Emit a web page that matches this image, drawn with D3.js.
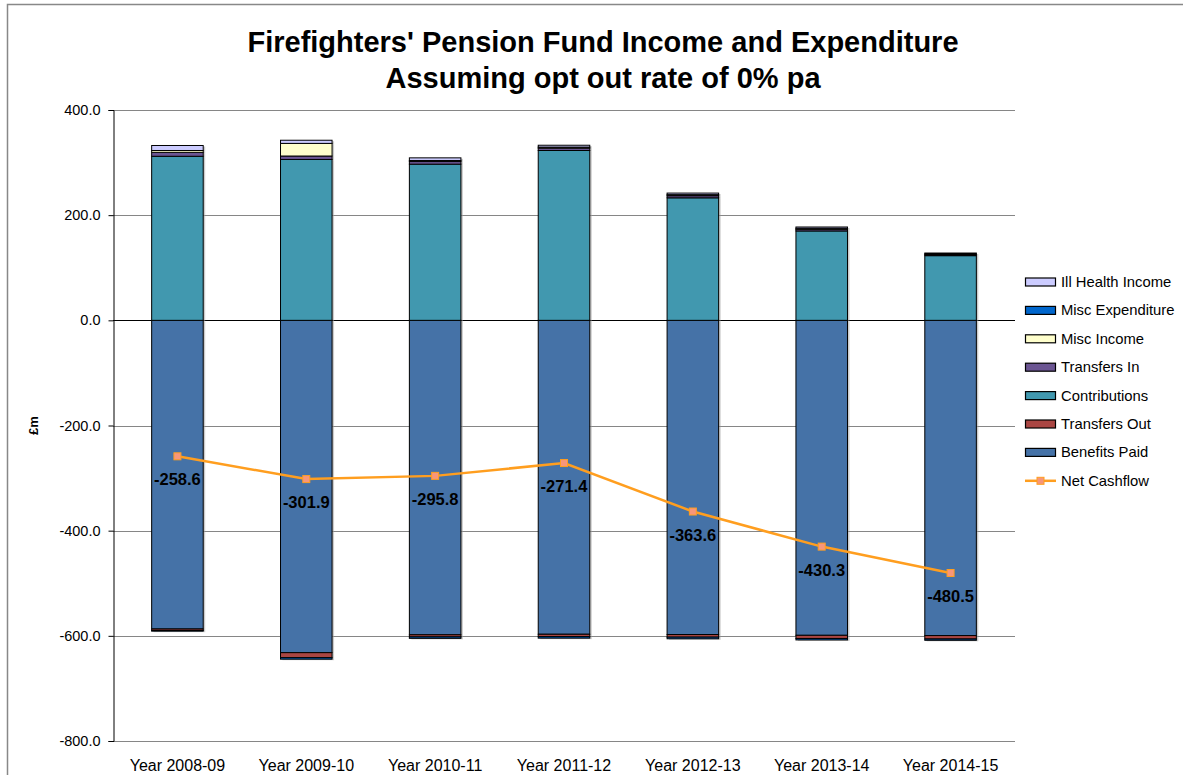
<!DOCTYPE html>
<html>
<head>
<meta charset="utf-8">
<script src="https://cdn.jsdelivr.net/npm/d3@7"></script>
<style>
  body { margin: 0; background: #fff; font-family: "Liberation Sans", Arial, sans-serif; }
  svg { display: block; }
</style>
</head>
<body>
<svg id="chart" width="1183" height="775"></svg>
<script>
// data (in £m)
const years = ["Year 2008-09", "Year 2009-10", "Year 2010-11", "Year 2011-12", "Year 2012-13", "Year 2013-14", "Year 2014-15"]
const benefitsPaid = [-587, -632, -598, -597, -597.5, -599, -599.5]
const transfersOut = [-2.8, -9.5, -4, -4.5, -5, -6, -6.5]
const contributions = [312, 306, 297, 323, 233, 170, 123]
const transfersIn = [7.5, 6.5, 5, 4.5, 4, 3, 2]
const miscIncome = [3.5, 24, 2, 2, 2, 2, 1.5]
const miscExpenditure = [-1.3, -2.9, -2.8, -2.9, -3.1, -2.8, -2.5]
const illHealthIncome = [9.5, 6, 5, 3.5, 3, 2.5, 1.5]
const netCashflow = [-258.6, -301.9, -295.8, -271.4, -363.6, -430.3, -480.5]
const yTicks = [400, 200, 0, -200, -400, -600, -800]

const series = [
  { key: "Benefits Paid", values: benefitsPaid, color: "#4572A7" },
  { key: "Transfers Out", values: transfersOut, color: "#AA4643" },
  { key: "Contributions", values: contributions, color: "#4198AF" },
  { key: "Transfers In", values: transfersIn, color: "#6B5592" },
  { key: "Misc Income", values: miscIncome, color: "#FFFFCC" },
  { key: "Misc Expenditure", values: miscExpenditure, color: "#0066CC" },
  { key: "Ill Health Income", values: illHealthIncome, color: "#CCCCFF" }
]

const table = years.map((y, i) => {
  const row = { year: y }
  series.forEach(s => { row[s.key] = s.values[i] })
  return row
})

const fmt = d => d.toFixed(1)   // plain hyphen minus, like the original

const svg = d3.select("#chart")
const plot = { left: 113, right: 1015, top: 110, bottom: 741 }

// chart frame
svg.append("rect")
  .attr("x", 7.5).attr("y", 4.5)
  .attr("width", 1200).attr("height", 800)
  .attr("fill", "#fff").attr("stroke", "#888").attr("stroke-width", 1.5)

const x = d3.scaleBand()
  .domain(years)
  .range([plot.left, plot.right])
  .paddingInner(0.6)
  .paddingOuter(0.3)

const y = d3.scaleLinear()
  .domain([-800, 400])
  .range([plot.bottom, plot.top])

// gridlines
svg.append("g")
  .selectAll("line")
  .data(yTicks)
  .enter()
  .append("line")
    .attr("x1", plot.left).attr("x2", plot.right)
    .attr("y1", d => Math.round(y(d)) + 0.5).attr("y2", d => Math.round(y(d)) + 0.5)
    .attr("stroke", d => d === 0 ? "#000" : "#868686")
    .attr("stroke-width", 1)

// y axis
const yAxis = svg.append("g")
  .attr("transform", `translate(${plot.left + 0.5},0)`)
  .call(d3.axisLeft(y).tickValues(yTicks).tickSize(5).tickPadding(8).tickFormat(fmt))
yAxis.select(".domain").attr("stroke", "#000")
yAxis.selectAll(".tick line").attr("stroke", "#000")
yAxis.selectAll("text")
  .attr("font-family", "Liberation Sans, Arial, sans-serif")
  .attr("font-size", "14.5px")
  .attr("fill", "#000")

svg.append("text")
  .attr("transform", `translate(38, ${(plot.top + plot.bottom) / 2}) rotate(-90)`)
  .attr("text-anchor", "middle")
  .attr("font-size", "13px")
  .attr("font-weight", "bold")
  .text("£m")

// x labels
svg.append("g")
  .selectAll("text")
  .data(years)
  .enter()
  .append("text")
    .attr("x", d => x(d) + x.bandwidth() / 2)
    .attr("y", 771)
    .attr("text-anchor", "middle")
    .attr("font-size", "16px")
    .text(d => d)

// stacked bars
const stack = d3.stack()
  .keys(series.map(s => s.key))
  .offset(d3.stackOffsetDiverging)
const layers = stack(table)

const barGroup = svg.append("g")
layers.forEach((layer, li) => {
  barGroup.append("g")
    .selectAll("rect")
    .data(layer)
    .enter()
    .append("rect")
      .attr("x", d => x(d.data.year) + 2)
      .attr("y", d => Math.min(y(d[0]), y(d[1])) + 1)
      .attr("width", x.bandwidth())
      .attr("height", d => Math.abs(y(d[0]) - y(d[1])))
      .attr("fill", "#999")
      .attr("opacity", 0.5)
})
layers.forEach((layer, li) => {
  const s = series[li]
  barGroup.append("g")
    .selectAll("rect")
    .data(layer)
    .enter()
    .append("rect")
      .attr("x", d => x(d.data.year))
      .attr("y", d => Math.min(y(d[0]), y(d[1])))
      .attr("width", x.bandwidth())
      .attr("height", d => Math.abs(y(d[0]) - y(d[1])))
      .attr("fill", s.color)
      .attr("stroke", "#000")
      .attr("stroke-width", 1)
})

// net cashflow line
const line = d3.line()
  .x((d, i) => x(years[i]) + x.bandwidth() / 2)
  .y(d => y(d))
svg.append("path")
  .datum(netCashflow)
  .attr("d", line)
  .attr("fill", "none")
  .attr("stroke", "#FF9E1F")
  .attr("stroke-width", 2.5)

svg.append("g")
  .selectAll("rect")
  .data(netCashflow)
  .enter()
  .append("rect")
    .attr("x", (d, i) => x(years[i]) + x.bandwidth() / 2 - 3.5)
    .attr("y", d => y(d) - 3.5)
    .attr("width", 7).attr("height", 7)
    .attr("fill", "#F7967A")
    .attr("stroke", "#FF9E1F")
    .attr("stroke-width", 1)

svg.append("g")
  .selectAll("text")
  .data(netCashflow)
  .enter()
  .append("text")
    .attr("x", (d, i) => x(years[i]) + x.bandwidth() / 2)
    .attr("y", d => y(d) + 29)
    .attr("text-anchor", "middle")
    .attr("font-size", "16.5px")
    .attr("font-weight", "bold")
    .text(fmt)

// title
const title = svg.append("text")
  .attr("text-anchor", "middle")
  .attr("font-size", "29px")
  .attr("font-weight", "bold")
title.append("tspan").attr("x", 603).attr("y", 52).text("Firefighters' Pension Fund Income and Expenditure")
title.append("tspan").attr("x", 603).attr("y", 88).text("Assuming opt out rate of 0% pa")

// legend
const legendItems = series.slice().reverse().concat([{ key: "Net Cashflow", line: true }])
const legend = svg.append("g").attr("transform", "translate(1025, 282)")
legendItems.forEach((item, i) => {
  const g = legend.append("g").attr("transform", `translate(0, ${i * 28.4})`)
  if (item.line) {
    g.append("line").attr("x1", 0).attr("x2", 31).attr("y1", 0).attr("y2", 0)
      .attr("stroke", "#FF9E1F").attr("stroke-width", 2.5)
    g.append("rect").attr("x", 12).attr("y", -3.5).attr("width", 7).attr("height", 7)
      .attr("fill", "#F7967A").attr("stroke", "#FF9E1F")
  } else {
    g.append("rect").attr("x", 0.5).attr("y", -4).attr("width", 30).attr("height", 8)
      .attr("fill", item.color).attr("stroke", "#000").attr("stroke-width", 1.2)
  }
  g.append("text").attr("x", 36).attr("y", 5)
    .attr("font-size", "14.8px")
    .text(item.key)
})
</script>
</body>
</html>
